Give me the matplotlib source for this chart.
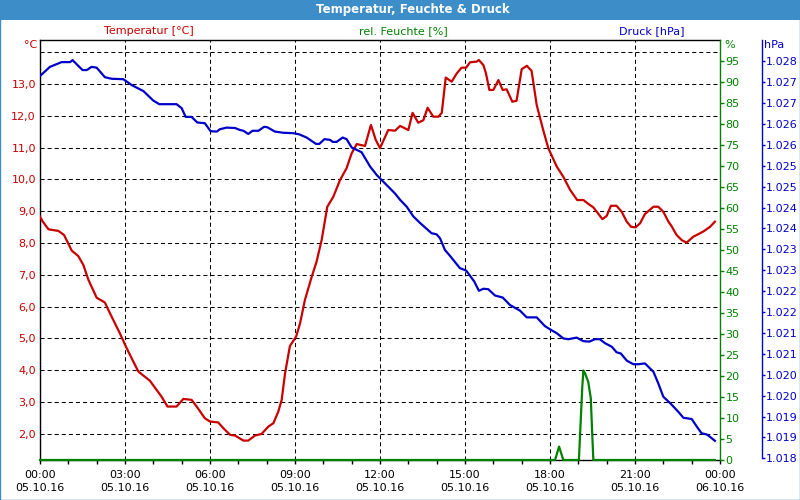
import matplotlib
matplotlib.use("Agg")
import matplotlib.pyplot as plt
from matplotlib.patches import Rectangle
from matplotlib.ticker import FixedLocator, FuncFormatter, MultipleLocator
import numpy as np

# colours of the original widget
red = "#c80000"
green = "#008200"
blue = "#0000c8"
bar_blue = "#3c8dc8"

# temperature (hours since 05.10.16 00:00, degC)
temp_hours = [0.00, 0.10, 0.30, 0.65, 0.85, 1.12, 1.35, 1.53, 1.71, 2.00,
              2.29, 2.47, 2.82, 3.06, 3.47, 3.88, 4.29, 4.50, 4.82, 5.06,
              5.35, 5.53, 5.82, 6.00, 6.29, 6.47, 6.71, 6.88, 7.18, 7.35,
              7.59, 7.82, 8.06, 8.24, 8.41, 8.53, 8.65, 8.82, 9.04, 9.18,
              9.35, 9.59, 9.76, 9.94, 10.14, 10.35, 10.59, 10.82, 11.00, 11.18,
              11.47, 11.68, 11.85, 12.00, 12.29, 12.53, 12.71, 13.00, 13.15, 13.35,
              13.53, 13.68, 13.88, 14.06, 14.18, 14.32, 14.53, 14.71, 14.88, 15.04,
              15.18, 15.41, 15.49, 15.65, 15.74, 15.86, 16.00, 16.18, 16.33, 16.47,
              16.67, 16.82, 17.00, 17.18, 17.35, 17.53, 17.76, 17.94, 18.24, 18.47,
              18.71, 18.96, 19.18, 19.35, 19.53, 19.85, 20.00, 20.15, 20.35, 20.53,
              20.71, 20.86, 21.02, 21.18, 21.35, 21.65, 21.82, 22.00, 22.18, 22.29,
              22.47, 22.65, 22.82, 23.06, 23.24, 23.41, 23.65, 23.82]
temp_values = [8.83, 8.67, 8.43, 8.38, 8.25, 7.76, 7.59, 7.31, 6.84, 6.28,
               6.13, 5.79, 5.16, 4.69, 3.96, 3.67, 3.17, 2.86, 2.86, 3.10,
               3.07, 2.86, 2.49, 2.39, 2.36, 2.18, 1.97, 1.95, 1.79, 1.79,
               1.95, 2.00, 2.23, 2.34, 2.70, 3.07, 3.91, 4.76, 5.06, 5.48,
               6.21, 6.94, 7.41, 8.09, 9.14, 9.45, 9.98, 10.35, 10.82, 11.11,
               11.05, 11.71, 11.24, 10.98, 11.55, 11.53, 11.68, 11.55, 12.09, 11.78,
               11.86, 12.25, 11.97, 11.97, 12.09, 13.20, 13.07, 13.33, 13.51, 13.51,
               13.68, 13.70, 13.75, 13.59, 13.33, 12.81, 12.81, 13.12, 12.81, 12.83,
               12.44, 12.47, 13.46, 13.57, 13.41, 12.34, 11.55, 10.98, 10.40, 10.08,
               9.67, 9.35, 9.35, 9.23, 9.12, 8.75, 8.85, 9.17, 9.17, 8.98,
               8.67, 8.51, 8.49, 8.62, 8.91, 9.14, 9.14, 8.98, 8.67, 8.53,
               8.25, 8.09, 8.01, 8.20, 8.28, 8.36, 8.51, 8.67]

# pressure (hPa)
pres_hours = [0.00, 0.35, 0.59, 0.76, 1.06, 1.15, 1.29, 1.50, 1.65, 1.82,
              2.00, 2.29, 2.53, 2.94, 3.24, 3.65, 4.00, 4.21, 4.82, 5.00,
              5.14, 5.35, 5.55, 5.82, 6.02, 6.24, 6.35, 6.59, 6.88, 7.06,
              7.18, 7.35, 7.50, 7.71, 7.91, 8.02, 8.29, 8.59, 8.94, 9.15,
              9.41, 9.74, 9.86, 10.04, 10.24, 10.33, 10.47, 10.68, 10.82, 11.00,
              11.35, 11.65, 11.88, 12.00, 12.24, 12.53, 12.71, 12.94, 13.18, 13.41,
              13.82, 14.00, 14.12, 14.29, 14.47, 14.82, 15.04, 15.33, 15.49, 15.65,
              15.82, 16.06, 16.33, 16.59, 16.94, 17.18, 17.53, 17.82, 18.00, 18.24,
              18.47, 18.65, 18.94, 19.18, 19.39, 19.59, 19.76, 19.94, 20.18, 20.35,
              20.50, 20.71, 20.94, 21.12, 21.35, 21.65, 21.82, 22.00, 22.24, 22.53,
              22.71, 23.00, 23.18, 23.35, 23.53, 23.65, 23.82]
pres_values = [1027.63, 1027.86, 1027.93, 1027.98, 1027.98, 1028.03, 1027.93, 1027.78, 1027.78, 1027.86,
               1027.84, 1027.60, 1027.56, 1027.55, 1027.40, 1027.25, 1027.01, 1026.92, 1026.92, 1026.82,
               1026.60, 1026.60, 1026.46, 1026.44, 1026.24, 1026.23, 1026.29, 1026.33, 1026.32, 1026.27,
               1026.25, 1026.17, 1026.25, 1026.25, 1026.35, 1026.34, 1026.23, 1026.20, 1026.19, 1026.16,
               1026.08, 1025.92, 1025.92, 1026.04, 1026.02, 1025.97, 1025.97, 1026.08, 1026.04, 1025.83,
               1025.71, 1025.35, 1025.14, 1025.05, 1024.88, 1024.67, 1024.51, 1024.34, 1024.09, 1023.93,
               1023.67, 1023.64, 1023.54, 1023.25, 1023.10, 1022.79, 1022.73, 1022.45, 1022.22, 1022.27,
               1022.26, 1022.10, 1022.05, 1021.86, 1021.72, 1021.55, 1021.55, 1021.33, 1021.25, 1021.15,
               1021.02, 1021.00, 1021.04, 1020.95, 1020.94, 1021.00, 1021.00, 1020.90, 1020.81, 1020.67,
               1020.64, 1020.46, 1020.37, 1020.37, 1020.39, 1020.18, 1019.89, 1019.55, 1019.39, 1019.17,
               1019.02, 1018.99, 1018.80, 1018.63, 1018.60, 1018.54, 1018.44]

# relative humidity (%)
hum_hours = [0.00, 18.18, 18.32, 18.47, 19.02, 19.08, 19.14, 19.18, 19.24, 19.35, 19.44, 19.48, 19.53, 23.82]
hum_values = [0.0, 0.0, 3.2, 0.0, 0.0, 8.7, 17.5, 21.3, 20.6, 18.6, 14.7, 7.9, 0.0, 0.0]

x_ticks = [0, 3, 6, 9, 12, 15, 18, 21, 24]
x_labels = ["00:00\n05.10.16", "03:00\n05.10.16", "06:00\n05.10.16", "09:00\n05.10.16",
            "12:00\n05.10.16", "15:00\n05.10.16", "18:00\n05.10.16", "21:00\n05.10.16",
            "00:00\n06.10.16"]

fig = plt.figure(figsize=(8, 5), dpi=100)
fig.patch.set_facecolor("white")

# title bar and outer frame
fig.patches.append(Rectangle((0, 1 - 20 / 500), 1, 20 / 500, transform=fig.transFigure,
                             facecolor=bar_blue, edgecolor="none", zorder=0))
fig.patches.append(Rectangle((0.0006, 0.001), 0.9988, 0.998, transform=fig.transFigure,
                             facecolor="none", edgecolor=bar_blue, lw=1, zorder=5))
fig.text(413 / 800, 1 - 10 / 500, "Temperatur, Feuchte & Druck", color="white",
         fontsize=8.5, fontweight="bold", ha="center", va="center")

fig.text(149 / 800, 1 - 31.5 / 500, "Temperatur [°C]", color=red, fontsize=8, ha="center", va="center")
fig.text(403 / 800, 1 - 31.5 / 500, "rel. Feuchte [%]", color=green, fontsize=8, ha="center", va="center")
fig.text(652 / 800, 1 - 31.5 / 500, "Druck [hPa]", color=blue, fontsize=8, ha="center", va="center")
fig.text(37 / 800, 1 - 45 / 500, "°C", color=red, fontsize=8, ha="right", va="center")
fig.text(724 / 800, 1 - 45 / 500, "%", color=green, fontsize=8, ha="left", va="center")
fig.text(764 / 800, 1 - 45 / 500, "hPa", color=blue, fontsize=8, ha="left", va="center")

ax = fig.add_axes([40 / 800, 40 / 500, 680 / 800, 420 / 500])
ax.set_xlim(0, 24)
ax.set_ylim(1.18, 14.38)

ax.set_xticks(x_ticks)
ax.set_xticklabels(x_labels, fontsize=8, color="black", linespacing=1.45)
ax.xaxis.set_minor_locator(MultipleLocator(1))
ax.tick_params(axis="x", which="both", direction="out", length=3, width=1, pad=4)

ax.yaxis.set_major_locator(FixedLocator(np.arange(2, 15)))
ax.yaxis.set_major_formatter(FuncFormatter(lambda v, p: "" if v > 13.5 else f"{v:.1f}".replace(".", ",")))
ax.tick_params(axis="y", length=0, pad=3, labelsize=8, labelcolor=red)

ax.grid(True, which="major", color="black", lw=0.75, linestyle=(0, (3.9, 2.9)))
for s in ["left", "top", "bottom"]:
    ax.spines[s].set_color("black")
    ax.spines[s].set_linewidth(1)
ax.spines["right"].set_visible(False)

ax.plot(temp_hours, temp_values, color=red, lw=1.6, zorder=3)

# humidity axis
ax2 = ax.twinx()
ax2.set_ylim(0, 100)
ax2.set_yticks(np.arange(0, 100, 5))
ax2.tick_params(axis="y", direction="out", length=3, width=1, pad=1, labelsize=8,
                colors=green)
ax2.spines["right"].set_color(green)
ax2.spines["right"].set_linewidth(1)
for s in ["left", "top", "bottom"]:
    ax2.spines[s].set_visible(False)
ax2.plot(hum_hours, hum_values, color=green, lw=1.6, clip_on=False)

# pressure axis
ax3 = ax.twinx()
ax3.set_ylim(1017.957, 1028.537)
ax3.set_yticks(np.linspace(1018, 1028, 20))
ax3.yaxis.set_major_formatter(FuncFormatter(lambda v, p: "1.%03d" % (int(round(v)) - 1000)))
ax3.spines["right"].set_position(("axes", 722 / 680))
ax3.spines["right"].set_color(blue)
ax3.spines["right"].set_linewidth(1)
ax3.spines["right"].set_bounds(1018, 1028.537)
for s in ["left", "top", "bottom"]:
    ax3.spines[s].set_visible(False)
ax3.tick_params(axis="y", direction="out", length=2, width=1, pad=1, labelsize=8, colors=blue)
ax3.plot(pres_hours, pres_values, color=blue, lw=1.6)

fig.savefig("out.png", dpi=100)
